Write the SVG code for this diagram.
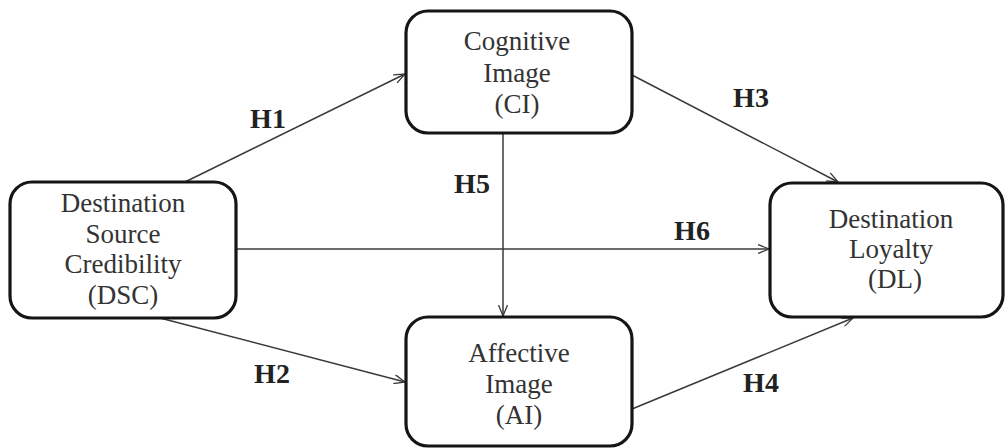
<svg xmlns="http://www.w3.org/2000/svg" width="1006" height="448" viewBox="0 0 1006 448">
  <defs>
    <marker id="arrow" viewBox="0 0 12 10" refX="11.5" refY="5" markerWidth="12" markerHeight="10" markerUnits="userSpaceOnUse" orient="auto">
      <path d="M0.5,0.5 L11.5,5 L0.5,9.5" fill="none" stroke="#3a3a3a" stroke-width="1.3"/>
    </marker>
    <style>
      .box { fill: #ffffff; stroke: #151515; stroke-width: 3.2; }
      .label { font-family: "Liberation Serif", "Times New Roman", serif; font-size: 27px; fill: #333333; text-anchor: middle; }
      .hyp { font-family: "Liberation Serif", "Times New Roman", serif; font-size: 28px; font-weight: bold; fill: #222222; text-anchor: middle; }
      .link { fill: none; stroke: #3a3a3a; stroke-width: 1.5; marker-end: url(#arrow); }
    </style>
  </defs>
  <rect width="1006" height="448" fill="#ffffff"/>

  <!-- hypothesis paths -->
  <g id="connectors">
    <line class="link" x1="185" y1="182" x2="405" y2="74"/>
    <line class="link" x1="160" y1="318" x2="405" y2="382"/>
    <line class="link" x1="632" y1="75" x2="838" y2="182"/>
    <line class="link" x1="632" y1="409" x2="853" y2="318"/>
    <line class="link" x1="503" y1="133" x2="503" y2="316"/>
    <line class="link" x1="236" y1="249" x2="769" y2="249"/>
    <text class="hyp" x="268" y="128">H1</text>
    <text class="hyp" x="272" y="383">H2</text>
    <text class="hyp" x="751" y="107">H3</text>
    <text class="hyp" x="761" y="392">H4</text>
    <text class="hyp" x="472" y="193">H5</text>
    <text class="hyp" x="692" y="240">H6</text>
  </g>

  <g id="dsc">
    <rect class="box" x="10" y="182" width="226" height="136" rx="22"/>
    <text class="label" x="123" y="212">Destination</text>
    <text class="label" x="123" y="243">Source</text>
    <text class="label" x="123" y="273">Credibility</text>
    <text class="label" x="123" y="304">(DSC)</text>
  </g>

  <g id="ci">
    <rect class="box" x="406" y="11" width="226" height="122" rx="22"/>
    <text class="label" x="517" y="50">Cognitive</text>
    <text class="label" x="517" y="82">Image</text>
    <text class="label" x="517" y="113">(CI)</text>
  </g>

  <g id="ai">
    <rect class="box" x="406" y="317" width="226" height="129" rx="22"/>
    <text class="label" x="519" y="362">Affective</text>
    <text class="label" x="519" y="393">Image</text>
    <text class="label" x="519" y="424">(AI)</text>
  </g>

  <g id="dl">
    <rect class="box" x="770" y="183" width="233" height="134" rx="22"/>
    <text class="label" x="891" y="228">Destination</text>
    <text class="label" x="891" y="258">Loyalty</text>
    <text class="label" x="895" y="288">(DL)</text>
  </g>
</svg>
